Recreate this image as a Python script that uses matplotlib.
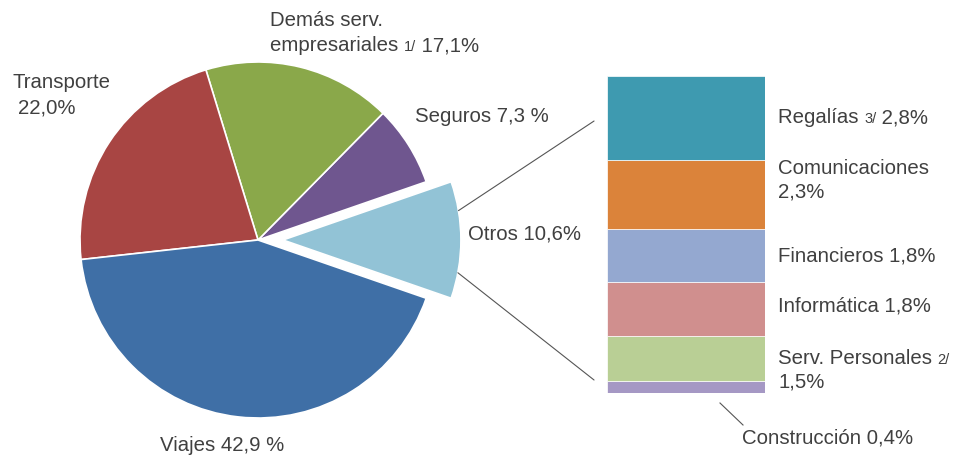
import matplotlib.pyplot as plt
import numpy as np
from matplotlib.patches import ConnectionPatch

plt.rcParams['font.family'] = ['Liberation Sans', 'DejaVu Sans']

# pie data (Otros first, counterclockwise)
pie_names = ['Otros', 'Seguros', 'Demás serv. empresariales', 'Transporte', 'Viajes']
pie_values = [10.6, 7.3, 17.1, 22.0, 42.9]
pie_colors = ['#92c3d6', '#6f568f', '#8aa84a', '#a84543', '#3f6fa6']
pie_explode = [0.14, 0, 0, 0, 0]

# breakdown of "Otros" (bottom to top)
bar_names = ['Construcción', 'Serv. Personales', 'Informática', 'Financieros', 'Comunicaciones', 'Regalías']
bar_values = [0.4, 1.5, 1.8, 1.8, 2.3, 2.8]
bar_colors = ['#a598c4', '#b9cf95', '#d08f8e', '#94a8d0', '#db833a', '#3e9ab0']

W, H = 971, 457
txt = '#404040'
fs = 14.7
small = 10.5

fig = plt.figure(figsize=(W / 100, H / 100), dpi=100)
ax = fig.add_axes([0, 0, 1, 1])

start = -pie_values[0] / sum(pie_values) * 360 / 2
cx, cy, r = 258, H - 240, 178
# explode is in data units when a radius is given, so scale it
wedges, _ = ax.pie(pie_values, colors=pie_colors, explode=[e * r for e in pie_explode],
                   startangle=start, center=(cx, cy), radius=r, counterclock=True,
                   wedgeprops=dict(edgecolor='white', linewidth=1.2))
ax.set_xlim(0, W)
ax.set_ylim(0, H)
ax.axis('off')

# stacked bar for Otros
ax2 = fig.add_axes([607 / W, (H - 393) / H, 158 / W, 317 / H])
bottoms = np.concatenate([[0], np.cumsum(bar_values)[:-1]])
ax2.bar([0] * len(bar_values), bar_values, bottom=bottoms, width=1, color=bar_colors,
        edgecolor='white', linewidth=0.5)
ax2.set_xlim(-0.5, 0.5)
ax2.set_ylim(0, sum(bar_values))
ax2.axis('off')

# connection lines from exploded slice to bar
sh = pie_explode[0] * r
for ang, yb in [(9.5, 0.858), (-10.6, 0.041)]:
    px = cx + sh + r * np.cos(np.radians(ang))
    py = cy + r * np.sin(np.radians(ang))
    con = ConnectionPatch(xyA=(px, py), coordsA=ax.transData,
                          xyB=(-0.082, yb), coordsB=ax2.transAxes,
                          color='#555555', linewidth=0.8)
    fig.add_artist(con)

fig.canvas.draw()
rend = fig.canvas.get_renderer()


def rich(x, y, parts):
    # draw text pieces of different sizes side by side, y measured from top
    for s, size in parts:
        t = ax.text(x, H - y, s, fontsize=size, color=txt, va='baseline', ha='left')
        bb = t.get_window_extent(renderer=rend)
        x = bb.x1


rich(270, 26, [('Demás serv.', fs)])
rich(270, 51, [('empresariales ', fs), ('1/', small), (' 17,1%', fs)])
rich(12, 88, [('Transporte', fs)])
rich(18, 113, [('22,0%', fs)])
rich(415, 122, [('Seguros 7,3 %', fs)])
rich(468, 240, [('Otros 10,6%', fs)])
rich(160, 451, [('Viajes 42,9 %', fs)])
rich(778, 123, [('Regalías ', fs), ('3/', small), (' 2,8%', fs)])
rich(778, 174, [('Comunicaciones', fs)])
rich(778, 198, [('2,3%', fs)])
rich(778, 261, [('Financieros 1,8%', fs)])
rich(778, 311, [('Informática 1,8%', fs)])
rich(778, 364, [('Serv. Personales ', fs), ('2/', small)])
rich(778, 388, [('1,5%', fs)])
rich(742, 443, [('Construcción 0,4%', fs)])

# leader for Construcción
ax.plot([720, 743], [H - 403, H - 425], color='#555555', linewidth=0.8)

fig.savefig('out.png', dpi=100, facecolor='white')
